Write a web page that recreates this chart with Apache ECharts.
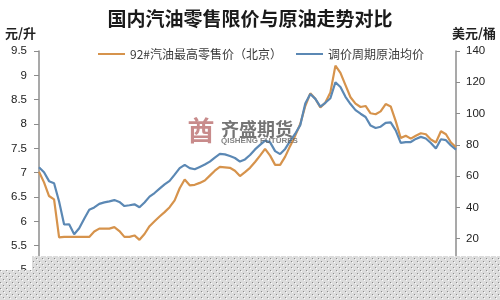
<!DOCTYPE html>
<html><head><meta charset="utf-8">
<script src="https://cdn.jsdelivr.net/npm/echarts@6/dist/echarts.min.js"></script>
<style>html,body{margin:0;padding:0;background:#fff}#c{width:500px;height:300px}</style>
</head><body><div id="c"></div>
<script>
var titleText = '国内汽油零售限价与原油走势对比';
var seriesNames = ['92#汽油最高零售价（北京）', '调价周期原油均价'];
var leftTicks = {min: 5, max: 9.5, step: 0.5};
var rightTicks = {min: 0, max: 140, step: 20};
var gasoline = [7.02,6.80,6.52,6.45,5.67,5.68,5.68,5.68,5.68,5.68,5.68,5.79,5.85,5.85,5.85,5.88,5.80,5.68,5.68,5.71,5.62,5.74,5.90,6.00,6.10,6.19,6.29,6.43,6.68,6.86,6.74,6.75,6.79,6.84,6.94,7.04,7.12,7.11,7.10,7.04,6.93,7.01,7.10,7.22,7.35,7.49,7.35,7.16,7.16,7.33,7.55,7.76,8.00,8.37,8.63,8.52,8.34,8.44,8.65,9.20,9.05,8.80,8.55,8.42,8.35,8.37,8.22,8.20,8.26,8.41,8.36,8.06,7.71,7.76,7.70,7.76,7.81,7.79,7.68,7.62,7.85,7.79,7.62,7.52];
var crude = [65.7,62.5,56.8,55.5,43.8,29.1,29.2,22.9,26.7,32.8,38.5,40.0,42.3,43.2,43.9,44.7,43.5,40.9,41.4,42.0,40.1,43.2,46.9,49.2,52.0,54.7,57.0,61.0,65.1,67.2,65.1,64.4,65.9,67.4,69.3,71.9,74.2,73.9,72.9,71.6,69.3,70.7,73.5,77.1,80.0,82.7,81.6,76.0,74.1,77.4,82.5,87.1,92.6,106.5,112.5,109.4,104.4,106.9,109.8,120.0,117.0,110.7,106.1,102.2,99.9,97.8,92.3,90.8,91.6,94.1,94.4,89.3,81.3,81.8,81.8,83.8,85.1,84.1,81.2,77.7,83.6,83.0,79.6,77.0];
var categories = gasoline.map(function(_, i){ return String(i + 1); });

var chart = echarts.init(document.getElementById('c'), null, {renderer: 'canvas'});

var pc = document.createElement('canvas');
pc.width = 6; pc.height = 6;
var g = pc.getContext('2d');
g.fillStyle = '#dcdcdc'; g.fillRect(0,0,6,6);
g.fillStyle = '#8a8a8a'; g.fillRect(0,0,1,1); g.fillRect(3,3,1,1);
g.fillStyle = '#fafafa'; g.fillRect(1,1,1,1); g.fillRect(4,4,1,1);
var pattern = {image: pc, repeat: 'repeat'};

var axisFont = {fontFamily: 'Liberation Sans', fontSize: 11.5, color: '#222'};

chart.setOption({
  animation: false,
  backgroundColor: '#fff',
  grid: {left: 39, right: 44, top: 51, bottom: 30},
  legend: {
    left: 93, top: 43, itemWidth: 27, itemHeight: 2, itemGap: 14, icon: 'rect',
    textStyle: {fontFamily: 'Noto Sans CJK SC', fontSize: 12, color: '#3a3a3a'},
    data: seriesNames
  },
  xAxis: {type: 'category', data: categories, boundaryGap: false, show: false},
  yAxis: [{
    type: 'value', min: leftTicks.min, max: leftTicks.max, interval: leftTicks.step,
    position: 'left',
    axisLine: {show: true, lineStyle: {color: '#8c8c8c', width: 1.5}},
    axisTick: {show: true, length: 5, lineStyle: {color: '#8c8c8c'}},
    axisLabel: Object.assign({margin: 12}, axisFont),
    splitLine: {show: false}
  }, {
    type: 'value', min: rightTicks.min, max: rightTicks.max, interval: rightTicks.step,
    position: 'right',
    axisLine: {show: true, lineStyle: {color: '#8c8c8c', width: 1.5}},
    axisTick: {show: true, length: 4, lineStyle: {color: '#8c8c8c'}},
    axisLabel: Object.assign({margin: 10}, axisFont),
    splitLine: {show: false}
  }],
  series: [{
    name: seriesNames[0], type: 'line', yAxisIndex: 0, data: gasoline,
    showSymbol: false, symbol: 'none',
    lineStyle: {color: '#d6934c', width: 2.2}, itemStyle: {color: '#d6934c'}
  }, {
    name: seriesNames[1], type: 'line', yAxisIndex: 1, data: crude,
    showSymbol: false, symbol: 'none',
    lineStyle: {color: '#5b88b4', width: 2.2}, itemStyle: {color: '#5b88b4'}
  }],
  graphic: [
    {type: 'text', x: 250, y: 19, z: 50, style: {text: titleText, fill: '#1a1a1a', font: 'bold 19px "Noto Sans CJK SC"', textAlign: 'center', textVerticalAlign: 'middle'}},
    {type: 'text', x: 5, y: 33, z: 50, style: {text: '元/升', fill: '#222', font: 'bold 13px "Noto Sans CJK SC"', textAlign: 'left', textVerticalAlign: 'middle'}},
    {type: 'text', x: 496, y: 33, z: 50, style: {text: '美元/桶', fill: '#222', font: 'bold 13px "Noto Sans CJK SC"', textAlign: 'right', textVerticalAlign: 'middle'}},
    {type: 'text', x: 201, y: 131, z: 60, style: {text: '酋', fill: 'rgba(176,90,90,0.7)', font: 'bold 27px "Noto Sans CJK SC"', textAlign: 'center', textVerticalAlign: 'middle'}},
    {type: 'text', x: 221, y: 129, z: 60, style: {text: '齐盛期货', fill: 'rgba(70,70,70,0.75)', font: 'bold 18px "Noto Sans CJK SC"', textAlign: 'left', textVerticalAlign: 'middle'}},
    {type: 'text', x: 221, y: 141, z: 60, style: {text: 'QISHENG FUTURES', fill: 'rgba(90,90,90,0.75)', font: 'bold 8px "Liberation Sans"', textAlign: 'left', textVerticalAlign: 'middle'}},
    {type: 'rect', z: 100, shape: {x: 32, y: 256, width: 468, height: 44}, style: {fill: pattern}},
    {type: 'rect', z: 100, shape: {x: 0, y: 270, width: 32, height: 30}, style: {fill: pattern}}
  ]
});
</script></body></html>
